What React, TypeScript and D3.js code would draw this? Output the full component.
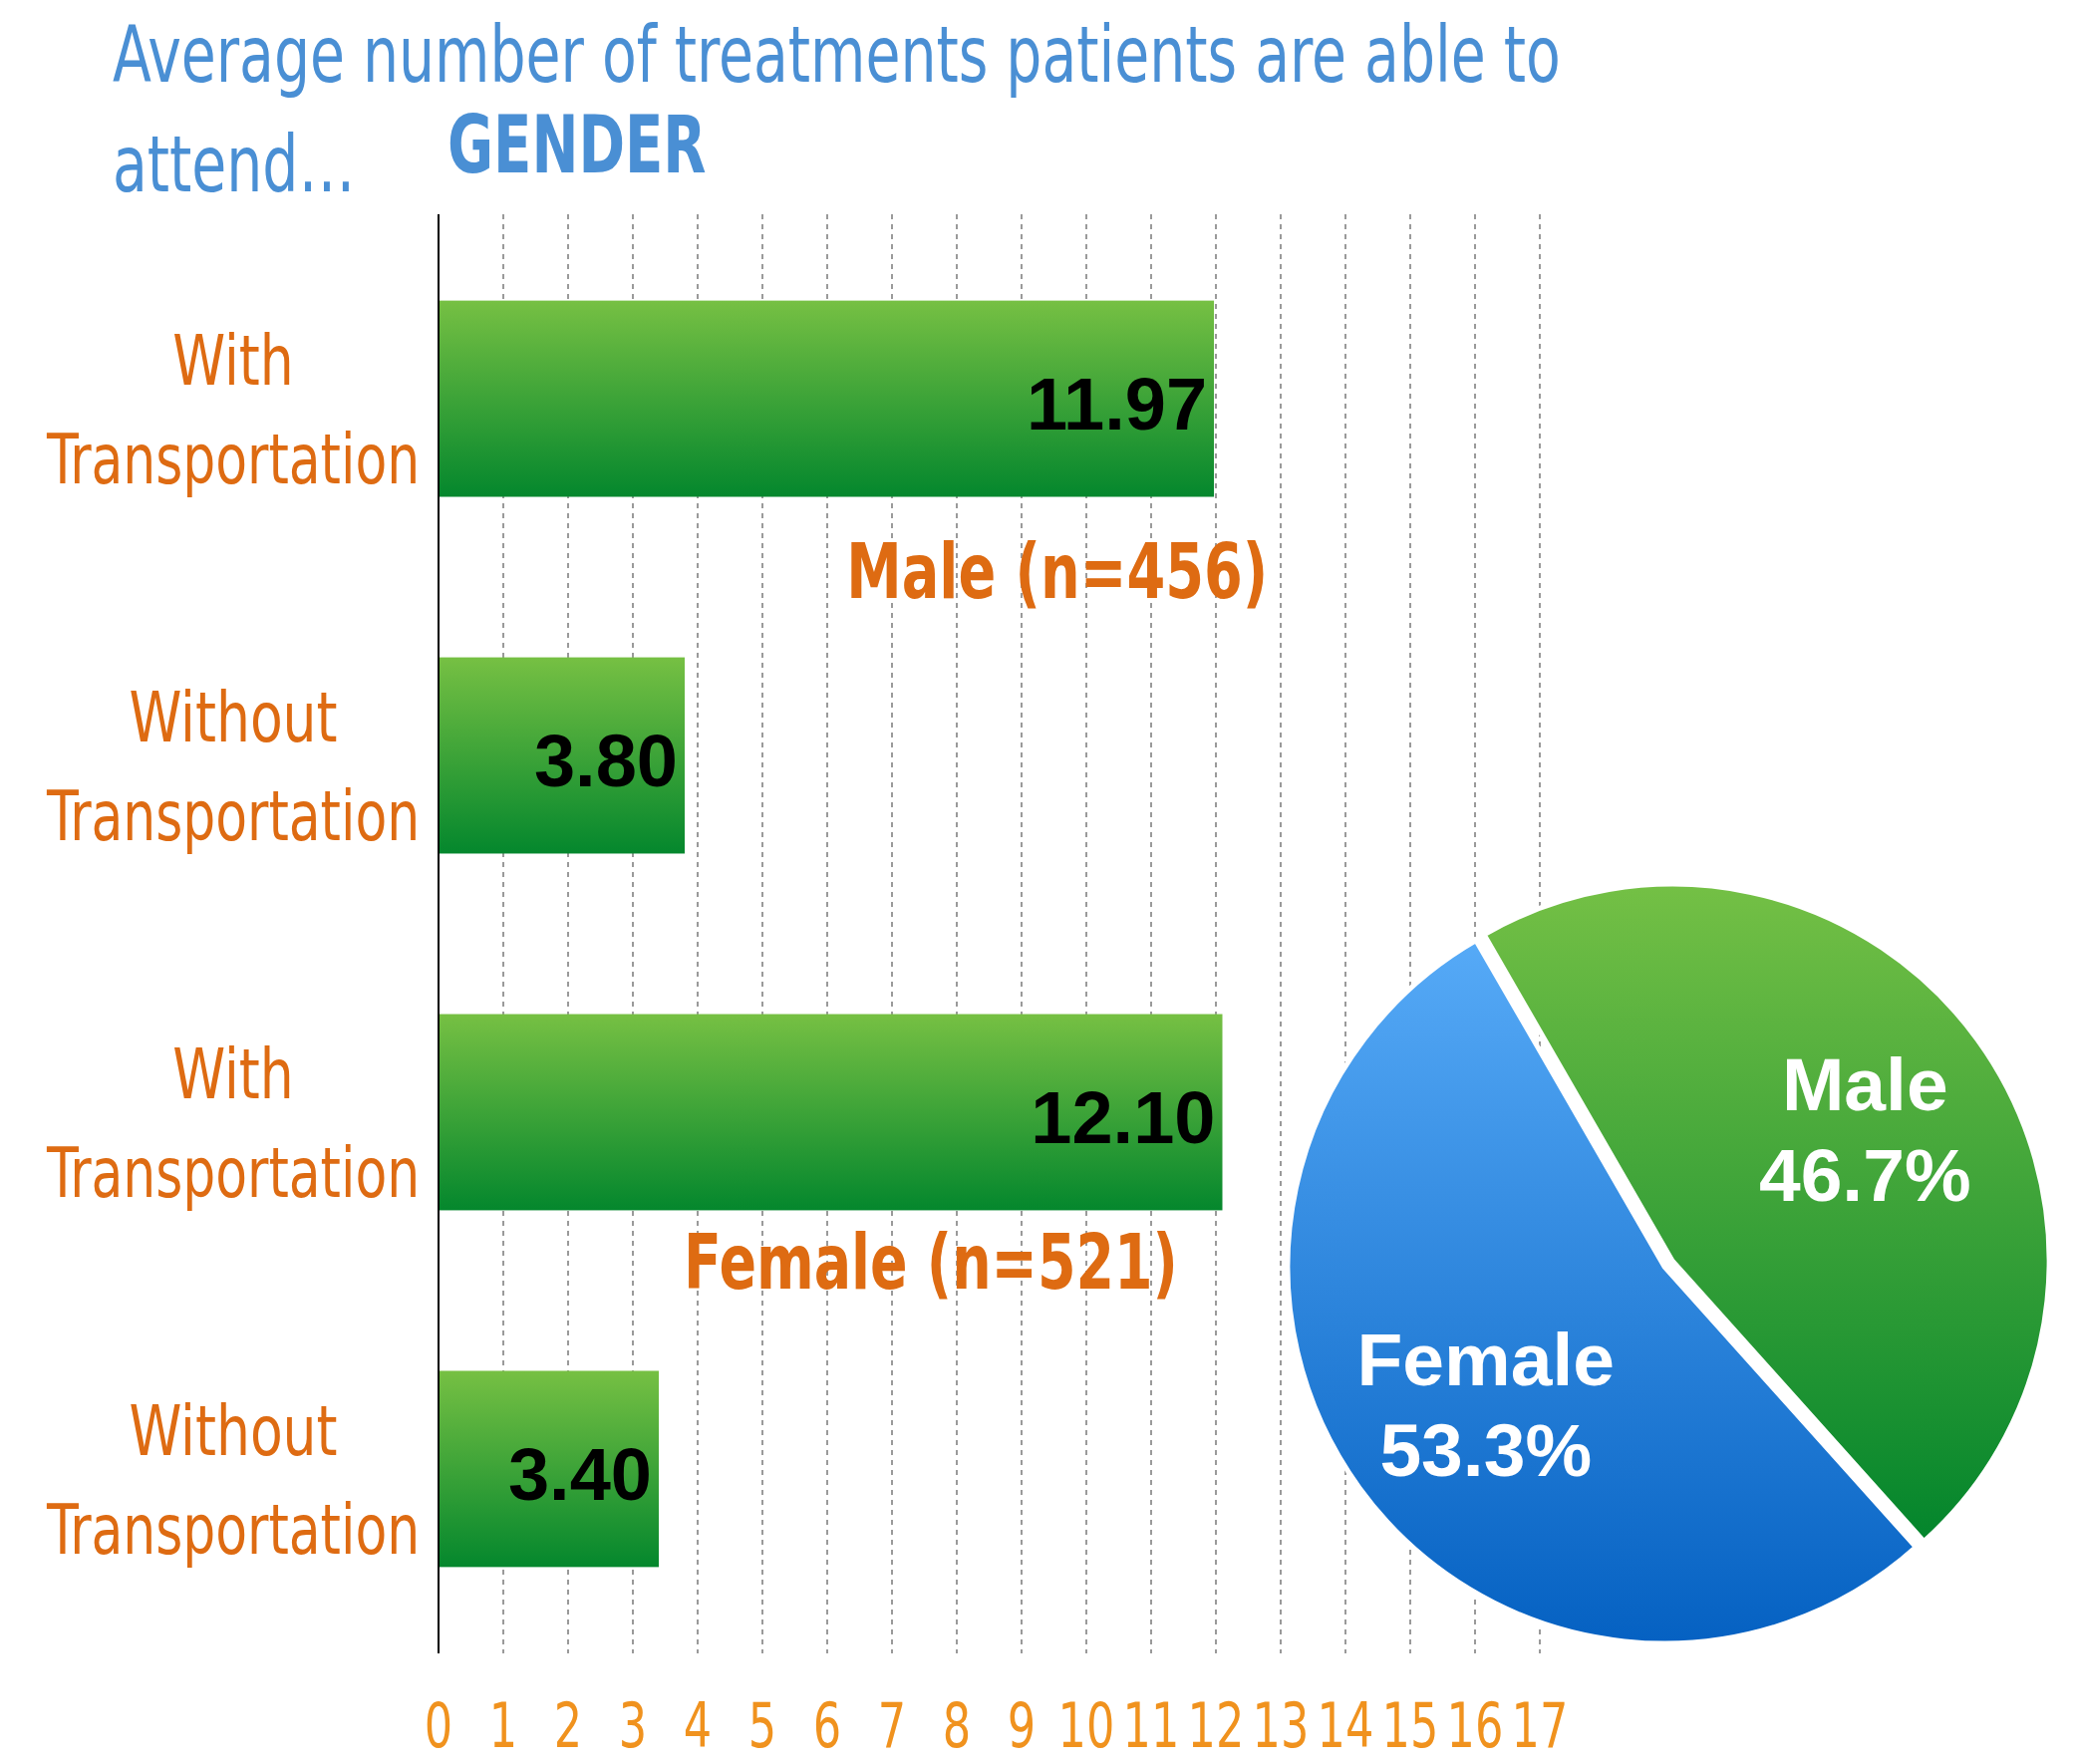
import React from 'react'
import * as d3 from 'd3'

// chart values
const rowKeys = ['maleWith', 'maleWithout', 'femaleWith', 'femaleWithout']
const rowLabels = [
  ['With', 'Transportation'],
  ['Without', 'Transportation'],
  ['With', 'Transportation'],
  ['Without', 'Transportation'],
]
const treatments = [11.97, 3.8, 12.1, 3.4]
const groupLabels = ['Male (n=456)', 'Female (n=521)']
const genders = ['Male', 'Female']
const genderShares = [46.7, 53.3]
const xTicks = [0, 1, 2, 3, 4, 5, 6, 7, 8, 9, 10, 11, 12, 13, 14, 15, 16, 17]

const W = 2085, H = 1770
const narrow = '"Liberation Sans Narrow", "DejaVu Sans Condensed", "Arial Narrow", sans-serif'
const bold = '"Liberation Sans", Arial, Helvetica, sans-serif'
const blue = '#4a8fd4'
const orange = '#de6b12'
const tickOrange = '#f0921e'

// condensed text: squeeze horizontally around its anchor point
function NText({ x, y, sx, children, ...rest }: any) {
  return (
    <text transform={`translate(${x},${y}) scale(${sx},1)`} fontFamily={narrow} {...rest}>
      {children}
    </text>
  )
}

export default function App() {
  const x = d3.scaleLinear().domain([0, 17]).range([440, 1545])
  const y = d3.scaleBand().domain(rowKeys).range([215, 1659]).paddingInner(0.45).paddingOuter(0.242)

  const pieData = genders.map((g, i) => ({ name: g, share: genderShares[i] }))
  const pie = d3.pie<any>().sort(null).value(d => d.share).startAngle(-Math.PI / 6).endAngle(2 * Math.PI - Math.PI / 6)
  const arcs = pie(pieData)
  const r = 378
  const arc = d3.arc<any>().innerRadius(0).outerRadius(r)
  const labelArc = d3.arc<any>().innerRadius(235).outerRadius(235)
  const cx = 1670, cy = 1271

  return (
    <svg width={W} height={H} style={{ position: 'absolute', left: 0, top: 0, background: '#fff' }}>
      <defs>
        <linearGradient id="barGrad" x1="0" y1="0" x2="0" y2="1">
          <stop offset="0%" stopColor="#76c043" />
          <stop offset="100%" stopColor="#04872d" />
        </linearGradient>
        <linearGradient id="pieMale" x1="0" y1="0" x2="0" y2="1">
          <stop offset="0%" stopColor="#74c045" />
          <stop offset="100%" stopColor="#03852c" />
        </linearGradient>
        <linearGradient id="pieFemale" x1="0" y1="0" x2="0" y2="1">
          <stop offset="0%" stopColor="#56aaf7" />
          <stop offset="100%" stopColor="#0561c2" />
        </linearGradient>
      </defs>

      {/* title */}
      <NText x={113} y={82} sx={0.81} fill={blue} fontSize={78}>
        Average number of treatments patients are able to
      </NText>
      <NText x={113} y={192} sx={0.81} fill={blue} fontSize={78}>attend…</NText>
      <NText x={449} y={173} sx={0.78} fill={blue} fontWeight="bold" fontSize={80}>GENDER</NText>

      {/* grid */}
      {xTicks.filter(t => t > 0).map(t => (
        <line key={t} x1={x(t)} x2={x(t)} y1={215} y2={1659} stroke="#9a9a9a" strokeWidth={2} strokeDasharray="5 5" />
      ))}

      {/* bars */}
      {rowKeys.map((k, i) => (
        <rect key={k} x={x(0)} y={y(k)} width={x(treatments[i]) - x(0)} height={y.bandwidth()} fill="url(#barGrad)" />
      ))}
      <line x1={x(0)} x2={x(0)} y1={215} y2={1659} stroke="#000" strokeWidth={2} />

      {/* value labels */}
      {rowKeys.map((k, i) => (
        <text key={k} x={x(treatments[i]) - 7} y={(y(k) as number) + y.bandwidth() / 2 + 31}
          textAnchor="end" fontFamily={bold} fontWeight="bold" fontSize={74} fill="#000">
          {treatments[i].toFixed(2)}
        </text>
      ))}

      {/* row labels */}
      {rowKeys.map((k, i) => {
        const mid = (y(k) as number) + y.bandwidth() / 2
        return (
          <g key={k}>
            <NText x={234} y={mid - 14} sx={0.85} textAnchor="middle" fontSize={70} fill={orange}>{rowLabels[i][0]}</NText>
            <NText x={234} y={mid + 85} sx={0.825} textAnchor="middle" fontSize={70} fill={orange}>{rowLabels[i][1]}</NText>
          </g>
        )
      })}

      {/* group labels */}
      <NText x={x(9.55)} y={(y(rowKeys[0]) as number) + y.bandwidth() + 101} sx={0.815} textAnchor="middle"
        fontWeight="bold" fontSize={76} fill={orange}>{groupLabels[0]}</NText>
      <NText x={x(7.6)} y={(y(rowKeys[2]) as number) + y.bandwidth() + 79} sx={0.81} textAnchor="middle"
        fontWeight="bold" fontSize={76} fill={orange}>{groupLabels[1]}</NText>

      {/* x tick labels */}
      {xTicks.map(t => (
        <NText key={t} x={x(t)} y={1753} sx={0.8} textAnchor="middle" fontSize={62} fill={tickOrange}>{t}</NText>
      ))}

      {/* pie */}
      <g transform={`translate(${cx},${cy})`}>
        {arcs.map((a, i) => {
          const mid = (a.startAngle + a.endAngle) / 2
          const off = i === 0 ? 10 : 0
          const dx = Math.sin(mid) * off, dy = -Math.cos(mid) * off
          return (
            <path key={a.data.name} d={arc(a) as string} transform={`translate(${dx},${dy})`}
              fill={i === 0 ? 'url(#pieMale)' : 'url(#pieFemale)'} stroke="#fff" strokeWidth={5} strokeLinejoin="round" />
          )
        })}
        {arcs.map(a => {
          const [lx, ly] = labelArc.centroid(a)
          return (
            <text key={a.data.name} textAnchor="middle" fontFamily={bold} fontWeight="bold" fontSize={75} fill="#fff">
              <tspan x={lx + 11} y={ly - 19}>{a.data.name}</tspan>
              <tspan x={lx + 11} y={ly + 72}>{a.data.share.toFixed(1)}%</tspan>
            </text>
          )
        })}
      </g>
    </svg>
  )
}
